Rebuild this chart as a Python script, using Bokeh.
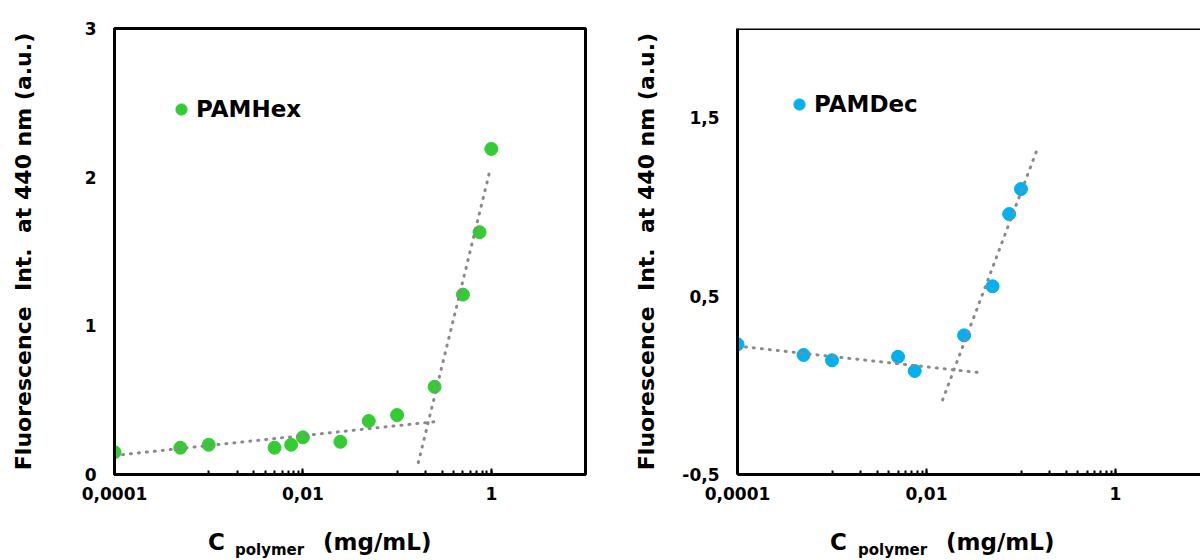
from bokeh.plotting import figure
from bokeh.models import FixedTicker, Legend, LegendItem, Range1d, Span, Div
from bokeh.layouts import row, column
from bokeh.embed import file_html
from bokeh.resources import INLINE

# ---------------- data ----------------
hex_conc = [0.0001, 0.0005, 0.001, 0.005, 0.0075, 0.01, 0.025, 0.05, 0.1, 0.25, 0.5, 0.75, 1.0]
hex_int = [0.15, 0.18, 0.20, 0.18, 0.20, 0.25, 0.22, 0.36, 0.40, 0.59, 1.21, 1.63, 2.19]
hex_fit_low_x = [0.0001, 0.25]
hex_fit_low_y = [0.128, 0.355]
hex_fit_high_x = [0.168, 0.98]
hex_fit_high_y = [0.08, 2.06]

dec_conc = [0.0001, 0.0005, 0.001, 0.005, 0.0075, 0.025, 0.05, 0.075, 0.1]
dec_int = [0.23, 0.17, 0.14, 0.16, 0.08, 0.28, 0.555, 0.96, 1.10]
dec_fit_low_x = [0.0001, 0.0364]
dec_fit_low_y = [0.22, 0.071]
dec_fit_high_x = [0.0148, 0.146]
dec_fit_high_y = [-0.082, 1.313]

x_major = [0.0001, 0.01, 1, 100]
x_major_labels = ["0,0001", "0,01", "1", "100"]
x_minor = [0.001, 0.002, 0.003, 0.004, 0.005, 0.006, 0.007, 0.008, 0.009, 0.01,
           0.1, 0.2, 0.3, 0.4, 0.5, 0.6, 0.7, 0.8, 0.9, 1]

hex_y_ticks = [0, 1, 2, 3]
hex_y_labels = ["0", "1", "2", "3"]
dec_y_ticks = [-0.5, 0.5, 1.5]
dec_y_labels = ["-0,5", "0,5", "1,5"]

y_title = "Fluorescence\u00a0 Int.\u00a0 at 440 nm (a.u.)"
x_title_main = "C"
x_title_sub = "polymer"
x_title_unit = "(mg/mL)"

FONT = "DejaVu Sans"
GREEN = "#33CC33"
BLUE = "#00B0F0"
FIT = "#8A8A8A"


def panel(conc, inten, fits, color, name, yr, yticks, ylabels, width,
          min_left, min_right, x_end, outline, legend_loc, lab_standoff):
    p = figure(width=width, height=530, x_axis_type="log",
               x_range=Range1d(0.0001, x_end), y_range=Range1d(*yr),
               output_backend="svg", toolbar_location=None,
               min_border_left=min_left, min_border_right=min_right,
               min_border_top=28, min_border_bottom=56)
    p.grid.visible = False
    p.background_fill_color = "white"
    p.border_fill_color = "white"
    if outline:
        p.outline_line_color = "black"
        p.outline_line_width = 3
    else:
        p.outline_line_color = None
        p.add_layout(Span(location=yr[1], dimension="width",
                          line_color="black", line_width=3))

    r = p.scatter(conc, inten, size=13, color=color, line_color=color)
    for fx, fy in fits:
        p.line(fx, fy, line_color=FIT, line_width=3, line_dash="1 7",
               line_cap="round")

    xa = p.xaxis[0]
    xa.ticker = FixedTicker(ticks=x_major, minor_ticks=x_minor)
    xa.major_label_overrides = dict(zip(x_major, x_major_labels))
    xa.axis_line_width = 3
    xa.axis_line_color = "black"
    xa.major_tick_in = 6
    xa.major_tick_out = 0
    xa.minor_tick_in = 4
    xa.minor_tick_out = 0
    xa.major_tick_line_width = 2
    xa.minor_tick_line_width = 2
    xa.major_tick_line_color = "black"
    xa.minor_tick_line_color = "black"
    xa.major_label_standoff = 12
    xa.major_label_text_font = FONT
    xa.major_label_text_font_style = "bold"
    xa.major_label_text_font_size = "17px"
    xa.major_label_text_color = "black"

    ya = p.yaxis[0]
    ya.ticker = FixedTicker(ticks=yticks)
    ya.major_label_overrides = dict(zip(yticks, ylabels))
    ya.axis_line_width = 3
    ya.axis_line_color = "black"
    ya.major_tick_in = 0
    ya.major_tick_out = 0
    ya.minor_tick_line_color = None
    ya.major_label_standoff = 18
    ya.major_label_text_font = FONT
    ya.major_label_text_font_style = "bold"
    ya.major_label_text_font_size = "17px"
    ya.major_label_text_color = "black"
    ya.axis_label = y_title
    ya.axis_label_text_font = FONT
    ya.axis_label_text_font_style = "bold"
    ya.axis_label_text_font_size = "22px"
    ya.axis_label_text_color = "black"
    ya.axis_label_standoff = lab_standoff

    leg = Legend(items=[LegendItem(label=name, renderers=[r])],
                 location=legend_loc, glyph_width=28, glyph_height=28,
                 label_standoff=1, padding=0, margin=0, spacing=0,
                 border_line_color=None, background_fill_alpha=0,
                 label_text_font=FONT, label_text_font_style="bold",
                 label_text_font_size="23px", label_text_color="black")
    p.add_layout(leg, "center")
    return p


def x_title(width, c_left, sub_left, unit_left):
    html = (
        f'<div style="position:relative;width:{width}px;height:30px;'
        f"font-family:'DejaVu Sans';font-weight:bold;color:#000;white-space:nowrap;\">"
        f'<span style="position:absolute;left:{c_left}px;top:1px;font-size:23px;line-height:23px">{x_title_main}</span>'
        f'<span style="position:absolute;left:{sub_left}px;top:13px;font-size:15px;line-height:15px">{x_title_sub}</span>'
        f'<span style="position:absolute;left:{unit_left}px;top:1px;font-size:23px;line-height:23px">{x_title_unit}</span>'
        f'</div>'
    )
    return Div(text=html, width=width, height=30, margin=0,
               styles={"overflow": "visible"})


left = panel(hex_conc, hex_int,
             [(hex_fit_low_x, hex_fit_low_y), (hex_fit_high_x, hex_fit_high_y)],
             GREEN, "PAMHex", (0, 3), hex_y_ticks, hex_y_labels,
             600, 114, 15, 10, True, (53, 351), 46)

right = panel(dec_conc, dec_int,
              [(dec_fit_low_x, dec_fit_low_y), (dec_fit_high_x, dec_fit_high_y)],
              BLUE, "PAMDec", (-0.5, 2), dec_y_ticks, dec_y_labels,
              600, 137, 0, 10 ** (-4 + 463 / 94.5), False, (48, 356), 20)

layout = column(row(left, right, spacing=0),
                row(x_title(600, 208, 235, 323), x_title(600, 230, 258, 346), spacing=0),
                spacing=0)
open("out.html", "w").write(file_html(layout, INLINE))
